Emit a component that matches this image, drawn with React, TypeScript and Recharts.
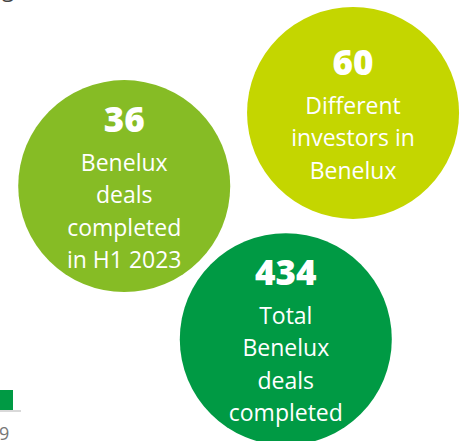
import React from 'react';
import { ScatterChart, Scatter, XAxis, YAxis } from 'recharts';

// headline numbers and the caption under each one
const metricValues = ['36', '60', '434'];
const metricLines = [
  ['Benelux', 'deals', 'completed', 'in H1 2023'],
  ['Different', 'investors in', 'Benelux'],
  ['Total', 'Benelux', 'deals', 'completed'],
];
// bubble layout, in percent of the canvas
const bubbleX = [26.6, 75.6, 61.2];
const bubbleY = [42.2, 25.6, 76.9];

const colors = ['#86BC25', '#C4D600', '#009A44'];
const W = 467;
const H = 441;
const R = 106;
const FONT = '"Open Sans", "Noto Sans", sans-serif';

const data = metricValues.map((v, i) => ({
  x: bubbleX[i],
  y: bubbleY[i],
  value: v,
  lines: metricLines[i],
  color: colors[i],
}));

const Bubble = (props: any) => {
  const { cx, cy, payload } = props;
  const lineGap = 32.5;
  const numCap = 24;
  const firstGap = 39;
  const blockH = numCap + firstGap + (payload.lines.length - 1) * lineGap;
  const top = cy - blockH / 2 + 2;
  const numBase = top + numCap;
  return (
    <g>
      <circle cx={cx} cy={cy} r={R} fill={payload.color} />
      <text x={cx} y={numBase} textAnchor="middle" fill="#fff"
        style={{ fontFamily: FONT, fontSize: 35, fontWeight: 800 }}>
        {payload.value}
      </text>
      {payload.lines.map((l: string, i: number) => (
        <text key={i} x={cx} y={numBase + firstGap + i * lineGap} textAnchor="middle" fill="#fff"
          style={{ fontFamily: FONT, fontSize: 23 }}>
          {l}
        </text>
      ))}
    </g>
  );
};

export default function App() {
  return (
    <div style={{ position: 'absolute', left: 0, top: 0, width: W, height: H, background: '#fff', overflow: 'hidden' }}>
      <ScatterChart width={W} height={H} margin={{ top: 0, right: 0, bottom: 0, left: 0 }}>
        <XAxis type="number" dataKey="x" domain={[0, 100]} hide />
        <YAxis type="number" dataKey="y" domain={[0, 100]} reversed hide />
        <Scatter data={data} shape={Bubble} isAnimationActive={false} />
      </ScatterChart>
      {/* cropped bits of the surrounding page */}
      <svg width={W} height={H} style={{ position: 'absolute', left: 0, top: 0, pointerEvents: 'none' }}>
        <text x={2} y={-3} fill="#444" style={{ fontFamily: FONT, fontSize: 22 }}>g</text>
        <rect x={0} y={390} width={13} height={20} fill="#009A44" />
        <rect x={0} y={410} width={21} height={2} fill="#d9d9d9" />
        <text x={-1} y={440} fill="#777" style={{ fontFamily: FONT, fontSize: 18 }}>9</text>
      </svg>
    </div>
  );
}
